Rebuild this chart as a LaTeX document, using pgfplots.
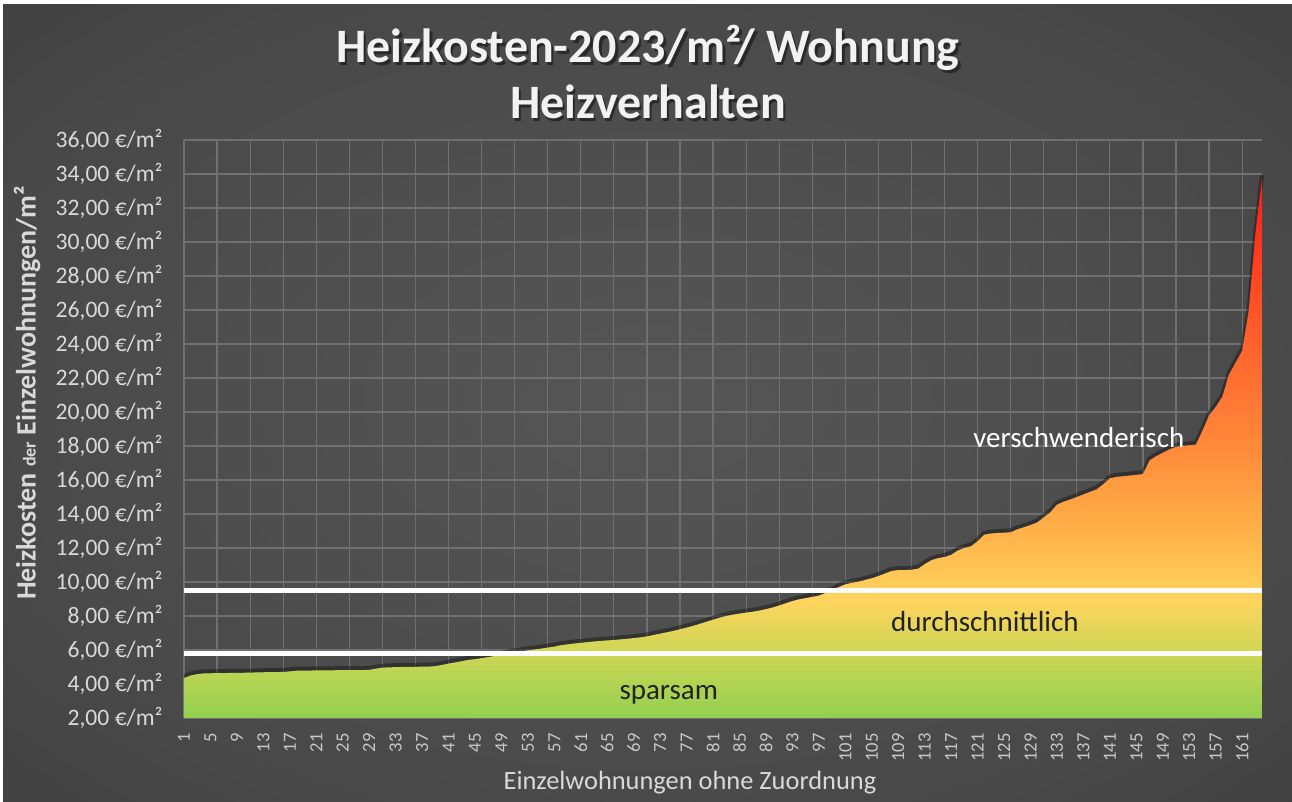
\documentclass[border=0pt]{standalone}
\usepackage{fontspec}
\setmainfont{Carlito}
\usepackage{pgfplots}
\pgfplotsset{compat=1.18}
\usepackage{pgfplotstable}

\definecolor{h0}{RGB}{146,208,80}
\definecolor{h1}{RGB}{205,214,84}
\definecolor{h2}{RGB}{255,212,94}
\definecolor{h3}{RGB}{255,176,72}
\definecolor{h4}{RGB}{255,138,58}
\definecolor{h5}{RGB}{255,96,44}
\definecolor{h6}{RGB}{255,26,20}
\pgfdeclareverticalshading{heat}{100bp}{color(0bp)=(h0); color(25bp)=(h0); color(31bp)=(h1); color(36bp)=(h2); color(42.5bp)=(h3); color(50bp)=(h4); color(60bp)=(h5); color(75bp)=(h6); color(100bp)=(h6)}

\definecolor{bg0}{RGB}{86,86,86}
\definecolor{bg1}{RGB}{72,72,72}
\definecolor{bg2}{RGB}{52,52,52}
\definecolor{bg3}{RGB}{34,34,34}
\pgfdeclareradialshading{bgshade}{\pgfpoint{0bp}{0bp}}{color(0bp)=(bg0); color(28bp)=(bg1); color(50bp)=(bg2); color(71bp)=(bg3)}

\definecolor{gridc}{RGB}{112,112,112}
\definecolor{ytc}{RGB}{217,217,217}
\definecolor{xtc}{RGB}{200,200,200}
\definecolor{darktext}{RGB}{34,34,34}
\definecolor{titlec}{RGB}{242,242,242}

\pgfplotstableread{
x y
1 4.35
2 4.50
3 4.58
4 4.62
5 4.63
6 4.64
7 4.64
8 4.65
9 4.65
10 4.66
11 4.67
12 4.68
13 4.69
14 4.70
15 4.70
16 4.71
17 4.74
18 4.78
19 4.79
20 4.79
21 4.80
22 4.80
23 4.80
24 4.81
25 4.81
26 4.81
27 4.82
28 4.82
29 4.83
30 4.90
31 4.96
32 4.98
33 4.99
34 5.00
35 5.00
36 5.01
37 5.02
38 5.02
39 5.05
40 5.12
41 5.20
42 5.27
43 5.34
44 5.42
45 5.46
46 5.52
47 5.58
48 5.65
49 5.72
50 5.80
51 5.86
52 5.92
53 5.98
54 6.03
55 6.08
56 6.14
57 6.20
58 6.28
59 6.33
60 6.38
61 6.42
62 6.46
63 6.50
64 6.53
65 6.56
66 6.59
67 6.62
68 6.66
69 6.70
70 6.74
71 6.80
72 6.88
73 6.96
74 7.04
75 7.12
76 7.22
77 7.32
78 7.42
79 7.54
80 7.66
81 7.78
82 7.90
83 8.00
84 8.08
85 8.14
86 8.20
87 8.25
88 8.32
89 8.40
90 8.50
91 8.62
92 8.75
93 8.88
94 8.98
95 9.05
96 9.12
97 9.20
98 9.35
99 9.50
100 9.70
101 9.86
102 9.95
103 10.02
104 10.12
105 10.22
106 10.35
107 10.50
108 10.65
109 10.70
110 10.70
111 10.72
112 10.78
113 11.05
114 11.28
115 11.40
116 11.47
117 11.60
118 11.85
119 12.00
120 12.10
121 12.40
122 12.78
123 12.85
124 12.88
125 12.90
126 12.92
127 13.10
128 13.22
129 13.35
130 13.50
131 13.80
132 14.10
133 14.55
134 14.72
135 14.85
136 15.00
137 15.15
138 15.30
139 15.45
140 15.75
141 16.10
142 16.18
143 16.22
144 16.26
145 16.30
146 16.35
147 17.15
148 17.40
149 17.60
150 17.80
151 17.95
152 18.00
153 18.04
154 18.08
155 18.90
156 19.80
157 20.30
158 20.90
159 22.20
160 22.90
161 23.60
162 26.00
163 30.50
164 33.80
}\data

\begin{document}
\begin{tikzpicture}
\path[use as bounding box] (0,0) rectangle (646pt,401pt);
\fill[white] (0,0) rectangle (646pt,401pt);
\shade[shading=bgshade] (1.5pt,0) rectangle (646pt,398.5pt);

\begin{axis}[
  at={(92pt,42pt)}, anchor=south west,
  width=539pt, height=289pt, scale only axis,
  xmin=1, xmax=164, ymin=2, ymax=36,
  axis line style={draw=none},
  major tick length=0pt, minor tick length=0pt,
  xtick={1,5,...,161},
  minor xtick={1,6,...,161},
  xminorgrids=true, xmajorgrids=false,
  ymajorgrids=true,
  ytick={2,4,...,36},
  yticklabels={{2,00 €/m²},{4,00 €/m²},{6,00 €/m²},{8,00 €/m²},{10,00 €/m²},{12,00 €/m²},{14,00 €/m²},{16,00 €/m²},{18,00 €/m²},{20,00 €/m²},{22,00 €/m²},{24,00 €/m²},{26,00 €/m²},{28,00 €/m²},{30,00 €/m²},{32,00 €/m²},{34,00 €/m²},{36,00 €/m²}},
  grid style={draw=gridc, line width=0.6pt},
  minor grid style={draw=gridc, line width=0.6pt},
  /pgf/number format/assume math mode=true,
  xticklabel style={font=\fontsize{9.3}{10}\selectfont, text=xtc, rotate=90, anchor=east, inner sep=0pt},
  xticklabel shift=7.5pt,
  yticklabel style={font=\fontsize{11.8}{13}\selectfont, text=ytc, anchor=east, inner sep=0pt},
  yticklabel shift=10.5pt,
  clip=false,
]
\addplot[draw=black, opacity=0.35, line width=2pt, yshift=1pt] table[x=x,y=y] {\data};
\addplot[draw=none, shading=heat] table[x=x,y=y] {\data} -- (axis cs:164,2) -- (axis cs:1,2) -- cycle;
\addplot[draw=white, line width=2.5pt] coordinates {(1,9.5) (164,9.5)};
\addplot[draw=white, line width=2.5pt] coordinates {(1,5.8) (164,5.8)};
\node[text=white, font=\fontsize{14.5}{16}\selectfont] at (axis cs:136.3,18.47) {verschwenderisch};
\node[text=darktext, font=\fontsize{14.5}{16}\selectfont] at (axis cs:122.1,7.65) {durchschnittlich};
\node[text=darktext, font=\fontsize{14.5}{16}\selectfont] at (axis cs:74.3,3.35) {sparsam};
\end{axis}

% title with shadow
\node[anchor=base, font=\bfseries\fontsize{24}{28}\selectfont, text=black, opacity=0.45] at (325.2pt,368.3pt) {Heizkosten-2023/m²/ Wohnung};
\node[anchor=base, font=\bfseries\fontsize{24}{28}\selectfont, text=titlec] at (324pt,369.5pt) {Heizkosten-2023/m²/ Wohnung};
\node[anchor=base, font=\bfseries\fontsize{24}{28}\selectfont, text=black, opacity=0.45] at (325.2pt,340.3pt) {Heizverhalten};
\node[anchor=base, font=\bfseries\fontsize{24}{28}\selectfont, text=titlec] at (324pt,341.5pt) {Heizverhalten};

% axis titles
\node[anchor=base, font=\fontsize{13.2}{15}\selectfont, text=ytc] at (345pt,6pt) {Einzelwohnungen ohne Zuordnung};
\node[rotate=90, anchor=center, font=\bfseries\fontsize{14}{16}\selectfont, text=ytc] at (13.5pt,204.5pt) {Heizkosten {\fontsize{9}{10}\selectfont der} Einzelwohnungen/m²};
\end{tikzpicture}
\end{document}
